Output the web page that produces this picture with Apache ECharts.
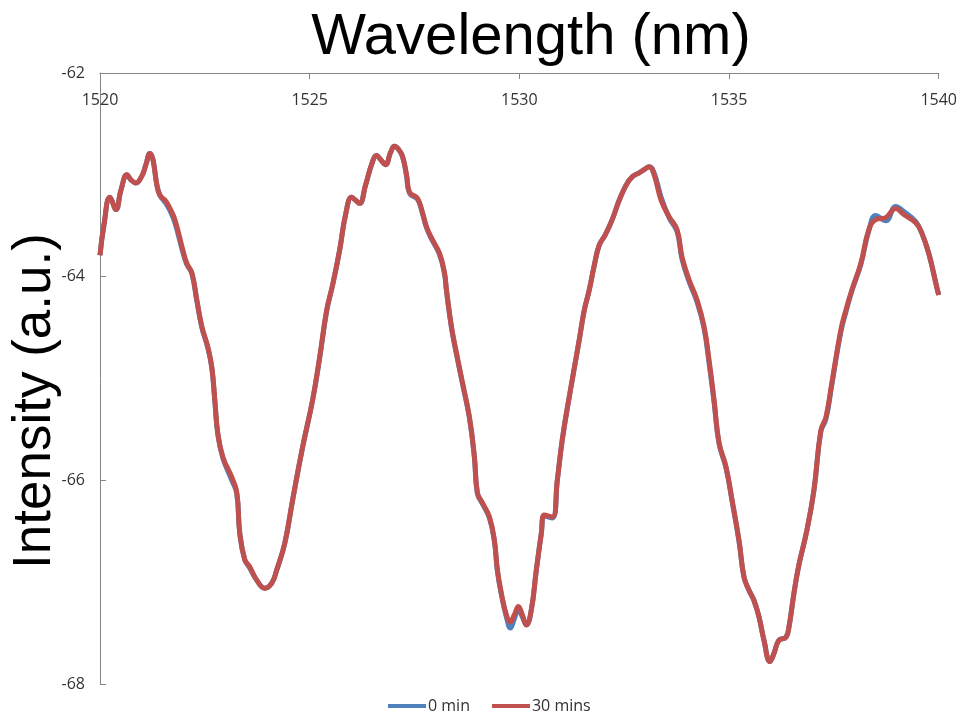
<!DOCTYPE html>
<html>
<head>
<meta charset="utf-8">
<title>Intensity vs Wavelength</title>
<script src="https://cdn.jsdelivr.net/npm/echarts@6/dist/echarts.min.js"></script>
<style>
  html, body { margin: 0; padding: 0; background: #ffffff; }
  #chart { width: 960px; height: 712px; }
</style>
</head>
<body>
<div id="chart"></div>
<script>
// Wavelength samples (nm)
const wavelength = [1520.000,1520.095,1520.238,1520.381,1520.5,1520.643,1520.738,1520.857,1521.0,1521.095,1521.19,1521.262,1521.357,1521.429,1521.571,1521.667,1521.786,1521.976,1522.071,1522.19,1522.31,1522.429,1522.571,1522.667,1522.738,1522.81,1522.929,1523.143,1523.262,1523.333,1523.452,1523.571,1523.738,1523.929,1524.095,1524.214,1524.405,1524.595,1524.833,1525.071,1525.238,1525.405,1525.548,1525.714,1525.857,1526.0,1526.095,1526.19,1526.333,1526.476,1526.595,1526.69,1526.81,1526.929,1527.024,1527.119,1527.214,1527.31,1527.381,1527.571,1527.69,1527.786,1527.905,1528.095,1528.214,1528.262,1528.381,1528.5,1528.643,1528.81,1528.929,1529.0,1529.119,1529.286,1529.405,1529.476,1529.571,1529.69,1529.786,1529.881,1529.976,1530.071,1530.167,1530.286,1530.405,1530.524,1530.595,1530.786,1530.905,1531.024,1531.19,1531.429,1531.548,1531.667,1531.786,1531.905,1532.048,1532.214,1532.381,1532.548,1532.69,1532.857,1532.976,1533.095,1533.214,1533.381,1533.571,1533.762,1533.881,1534.048,1534.238,1534.405,1534.524,1534.643,1534.762,1534.929,1535.071,1535.238,1535.357,1535.476,1535.595,1535.714,1535.833,1535.976,1536.071,1536.19,1536.357,1536.429,1536.548,1536.667,1536.857,1537.024,1537.19,1537.31,1537.452,1537.667,1537.786,1537.929,1538.143,1538.333,1538.5,1538.738,1538.976,1539.167,1539.452,1539.595,1539.762,1539.952,1540.0];

// Intensity at 0 min (a.u.)
const intensity0min = [-63.79,-63.49,-63.22,-63.34,-63.15,-63.00,-63.05,-63.08,-63.01,-62.90,-62.79,-62.85,-63.10,-63.20,-63.28,-63.35,-63.47,-63.76,-63.88,-63.97,-64.24,-64.50,-64.70,-64.90,-65.22,-65.55,-65.78,-66.00,-66.13,-66.52,-66.78,-66.86,-66.98,-67.06,-67.01,-66.88,-66.62,-66.19,-65.67,-65.21,-64.80,-64.34,-64.08,-63.74,-63.39,-63.22,-63.25,-63.28,-63.10,-62.90,-62.81,-62.85,-62.90,-62.78,-62.72,-62.75,-62.82,-63.01,-63.18,-63.24,-63.38,-63.52,-63.63,-63.78,-63.97,-64.14,-64.50,-64.76,-65.05,-65.39,-65.78,-66.13,-66.23,-66.37,-66.60,-66.89,-67.12,-67.34,-67.45,-67.36,-67.27,-67.34,-67.42,-67.27,-66.88,-66.52,-66.35,-66.37,-66.00,-65.60,-65.18,-64.62,-64.33,-64.13,-63.89,-63.69,-63.59,-63.44,-63.25,-63.10,-63.02,-62.98,-62.95,-62.92,-62.98,-63.22,-63.42,-63.56,-63.83,-64.05,-64.25,-64.51,-64.85,-65.23,-65.64,-65.88,-66.20,-66.60,-66.95,-67.08,-67.18,-67.34,-67.57,-67.78,-67.70,-67.57,-67.54,-67.44,-67.11,-66.83,-66.49,-66.10,-65.52,-65.40,-65.06,-64.54,-64.35,-64.14,-63.88,-63.55,-63.40,-63.45,-63.31,-63.36,-63.46,-63.57,-63.77,-64.10,-64.18];

// Intensity at 30 mins (a.u.)
const intensity30mins = [-63.79,-63.49,-63.22,-63.34,-63.15,-63.00,-63.05,-63.08,-63.01,-62.90,-62.79,-62.85,-63.10,-63.20,-63.26,-63.33,-63.44,-63.74,-63.87,-63.96,-64.23,-64.49,-64.69,-64.89,-65.21,-65.54,-65.77,-65.97,-66.12,-66.52,-66.78,-66.85,-66.98,-67.06,-67.01,-66.88,-66.62,-66.19,-65.67,-65.21,-64.79,-64.33,-64.08,-63.74,-63.39,-63.22,-63.25,-63.28,-63.10,-62.90,-62.81,-62.85,-62.90,-62.78,-62.72,-62.75,-62.82,-63.00,-63.17,-63.23,-63.37,-63.51,-63.62,-63.77,-63.96,-64.13,-64.49,-64.75,-65.04,-65.38,-65.77,-66.12,-66.22,-66.36,-66.59,-66.88,-67.11,-67.32,-67.39,-67.32,-67.24,-67.32,-67.42,-67.27,-66.88,-66.52,-66.34,-66.36,-66.00,-65.60,-65.18,-64.62,-64.33,-64.13,-63.89,-63.69,-63.59,-63.44,-63.25,-63.10,-63.02,-62.98,-62.95,-62.92,-63.00,-63.25,-63.41,-63.54,-63.81,-64.03,-64.23,-64.49,-64.82,-65.21,-65.63,-65.87,-66.19,-66.59,-66.95,-67.08,-67.18,-67.34,-67.57,-67.78,-67.70,-67.57,-67.54,-67.44,-67.11,-66.83,-66.49,-66.10,-65.51,-65.38,-65.04,-64.52,-64.33,-64.13,-63.87,-63.54,-63.44,-63.42,-63.33,-63.39,-63.47,-63.57,-63.77,-64.10,-64.18];

const seriesNames = ['0 min', '30 mins'];
const seriesColors = ['#4F81BD', '#C0504D'];

const pairs = (ys) => wavelength.map((x, i) => [x, ys[i]]);

const labelFont = { fontFamily: 'Open Sans', fontSize: 16, color: '#333333' };
const axisGray = '#868686';

const chart = echarts.init(document.getElementById('chart'), null, { renderer: 'canvas' });

chart.setOption({
  animation: false,
  backgroundColor: '#ffffff',
  grid: { left: 100, right: 20, top: 73, bottom: 28, containLabel: false },
  xAxis: {
    type: 'value',
    position: 'top',
    min: 1520,
    max: 1540,
    interval: 5,
    axisLine: { show: true, lineStyle: { color: axisGray, width: 1 } },
    axisTick: { show: true, inside: true, length: 6, lineStyle: { color: axisGray } },
    axisLabel: { inside: true, margin: 19, formatter: (v) => String(v), ...labelFont },
    splitLine: { show: false }
  },
  yAxis: {
    type: 'value',
    min: -68,
    max: -62,
    interval: 2,
    axisLine: { show: true, lineStyle: { color: axisGray, width: 1 } },
    axisTick: { show: true, inside: true, length: 6, lineStyle: { color: axisGray } },
    axisLabel: { margin: 15, formatter: (v) => String(v), ...labelFont },
    splitLine: { show: false }
  },
  legend: {
    data: seriesNames.map((n) => ({ name: n, icon: 'rect' })),
    left: 383,
    top: 693,
    itemWidth: 38,
    itemHeight: 4,
    itemGap: 22,
    textStyle: { fontFamily: 'Open Sans', fontSize: 16, color: '#333333', padding: [0, 0, 0, -3] }
  },
  graphic: [
    {
      type: 'text',
      x: 531,
      y: 38,
      style: {
        text: 'Wavelength (nm)',
        font: '58px "Liberation Sans", Arial, sans-serif',
        fill: '#000000',
        textAlign: 'center',
        textVerticalAlign: 'middle'
      }
    },
    {
      type: 'text',
      x: 35,
      y: 401,
      rotation: Math.PI / 2,
      style: {
        text: 'Intensity (a.u.)',
        font: '53px "Liberation Sans", Arial, sans-serif',
        fill: '#000000',
        textAlign: 'center',
        textVerticalAlign: 'middle'
      }
    }
  ],
  series: [
    {
      name: seriesNames[0],
      type: 'line',
      data: pairs(intensity0min),
      symbol: 'none',
      smooth: 0.45,
      color: seriesColors[0],
      lineStyle: { width: 5, color: seriesColors[0] },
      z: 2
    },
    {
      name: seriesNames[1],
      type: 'line',
      data: pairs(intensity30mins),
      symbol: 'none',
      smooth: 0.45,
      color: seriesColors[1],
      lineStyle: { width: 5, color: seriesColors[1] },
      z: 3
    }
  ]
});
</script>
</body>
</html>
